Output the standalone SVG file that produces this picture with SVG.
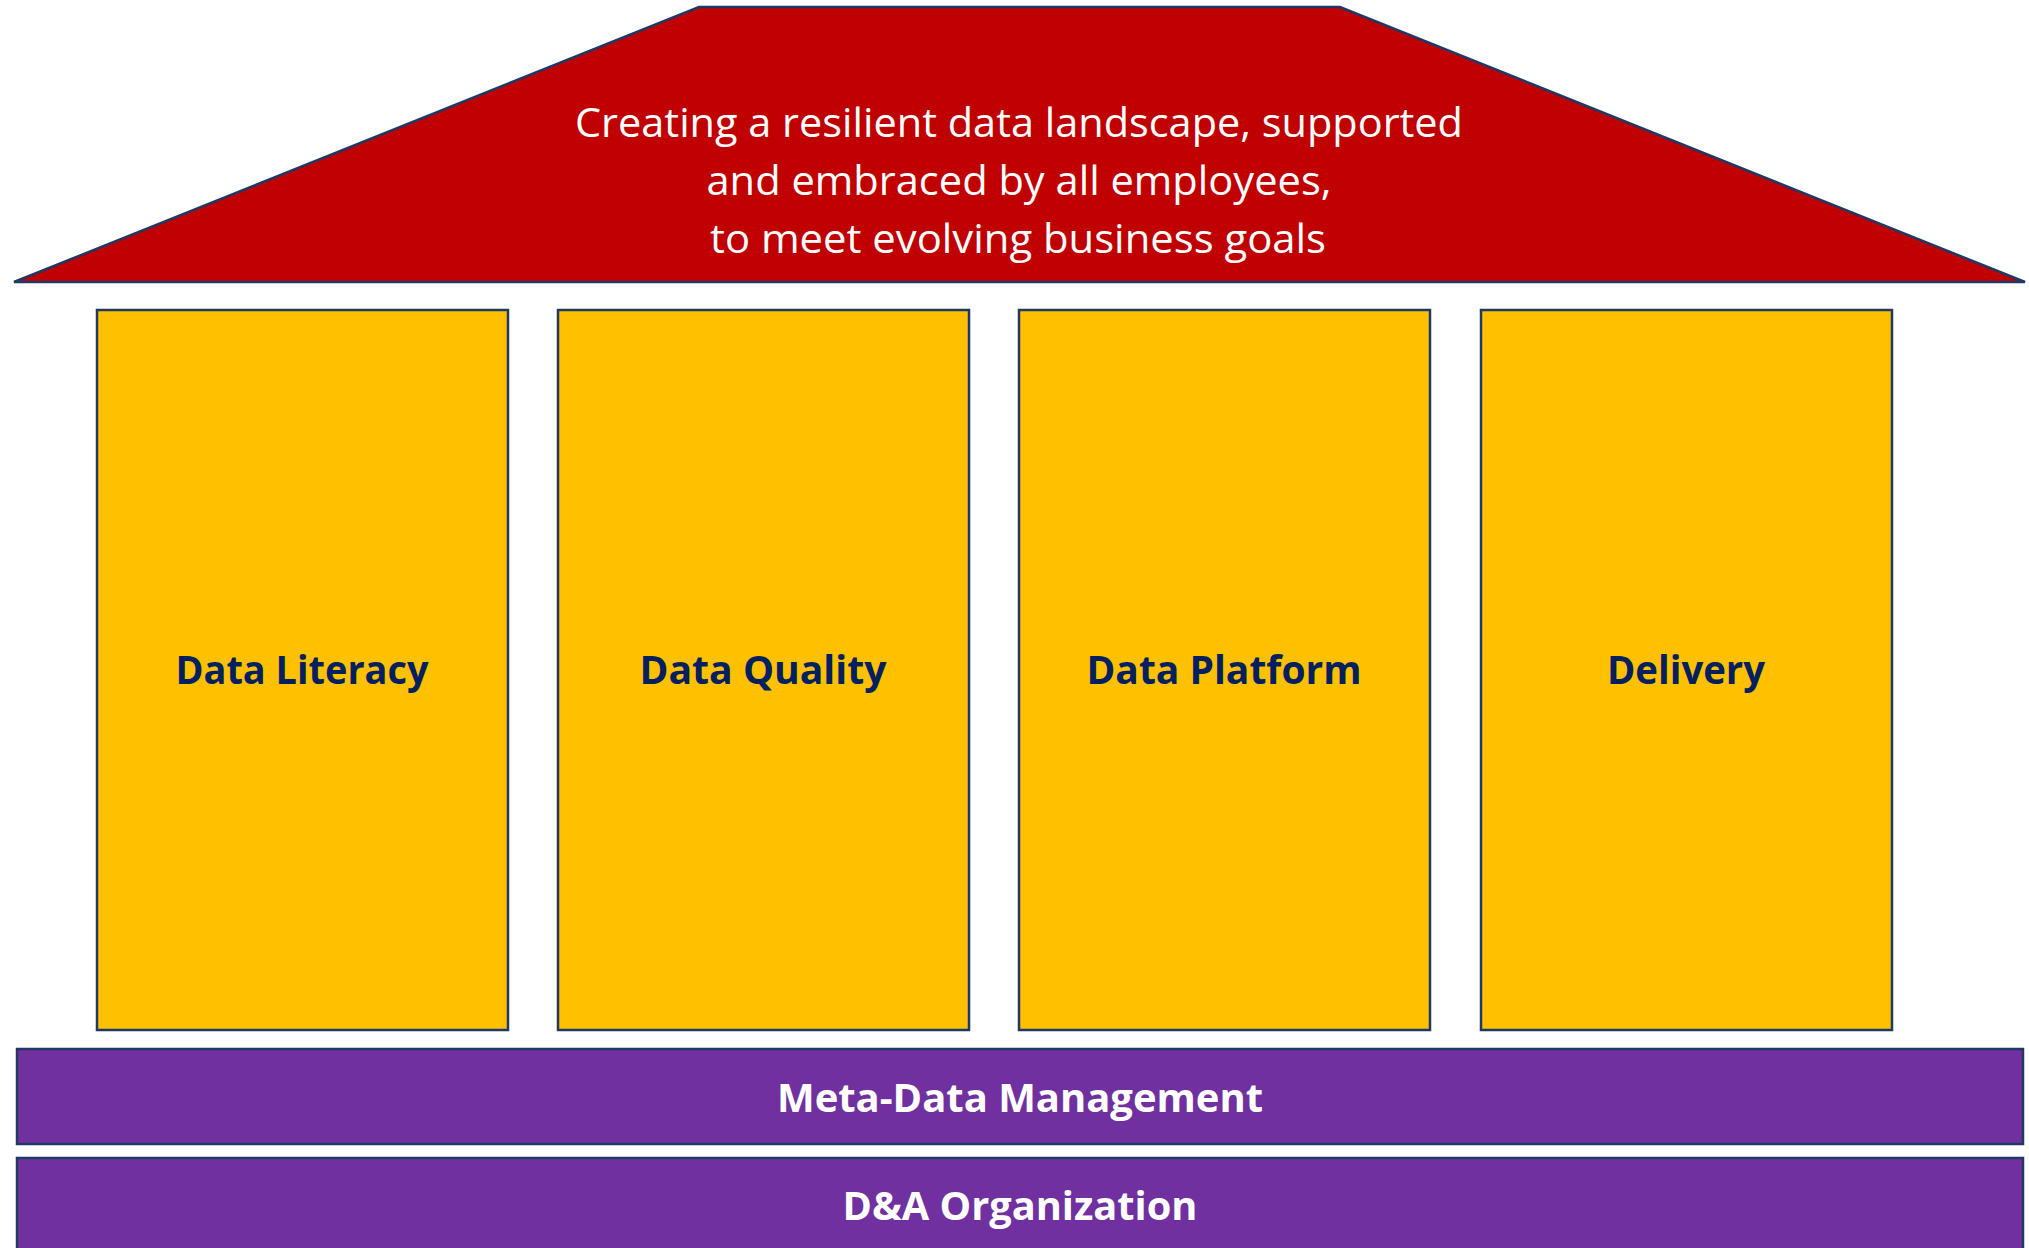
<svg xmlns="http://www.w3.org/2000/svg" width="2029" height="1248" viewBox="0 0 2029 1248">
  <style>
    .edge { stroke: #1F3864; stroke-width: 2.5; }
    .roof { fill: #C00000; }
    .pillar { fill: #FFC000; }
    .base { fill: #7030A0; }
    .roof-text { font-family: "Open Sans", "Liberation Sans", sans-serif; font-size: 41px; fill: #FFFFFF; text-anchor: middle; }
    .pillar-text { font-family: "Open Sans", "Liberation Sans", sans-serif; font-weight: bold; font-size: 40px; fill: #002060; text-anchor: middle; }
    .base-text { font-family: "Open Sans", "Liberation Sans", sans-serif; font-weight: bold; font-size: 40px; fill: #FFFFFF; text-anchor: middle; }
  </style>
  <rect x="0" y="0" width="2029" height="1248" fill="#FFFFFF"/>
  <g id="roof">
    <polygon class="roof edge" points="699,7 1340,7 2025,282 14,282"/>
    <text class="roof-text" x="1019" y="137" textLength="888" lengthAdjust="spacingAndGlyphs">Creating a resilient data landscape, supported</text>
    <text class="roof-text" x="1019" y="195" textLength="625" lengthAdjust="spacingAndGlyphs">and embraced by all employees,</text>
    <text class="roof-text" x="1018" y="253" textLength="616" lengthAdjust="spacingAndGlyphs">to meet evolving business goals</text>
  </g>
  <g id="pillar-data-literacy">
    <rect class="pillar edge" x="97" y="310" width="411" height="720"/>
    <text class="pillar-text" x="302" y="684" textLength="253" lengthAdjust="spacingAndGlyphs">Data Literacy</text>
  </g>
  <g id="pillar-data-quality">
    <rect class="pillar edge" x="558" y="310" width="411" height="720"/>
    <text class="pillar-text" x="763" y="684" textLength="247" lengthAdjust="spacingAndGlyphs">Data Quality</text>
  </g>
  <g id="pillar-data-platform">
    <rect class="pillar edge" x="1019" y="310" width="411" height="720"/>
    <text class="pillar-text" x="1224" y="684" textLength="275" lengthAdjust="spacingAndGlyphs">Data Platform</text>
  </g>
  <g id="pillar-delivery">
    <rect class="pillar edge" x="1481" y="310" width="411" height="720"/>
    <text class="pillar-text" x="1686" y="684" textLength="158" lengthAdjust="spacingAndGlyphs">Delivery</text>
  </g>
  <g id="meta-data-management">
    <rect class="base edge" x="17" y="1049" width="2006" height="95"/>
    <text class="base-text" x="1020" y="1112" textLength="486" lengthAdjust="spacingAndGlyphs">Meta-Data Management</text>
  </g>
  <g id="da-organization">
    <rect class="base edge" x="17" y="1158" width="2006" height="100"/>
    <text class="base-text" x="1020" y="1220" textLength="355" lengthAdjust="spacingAndGlyphs">D&amp;A Organization</text>
  </g>
  <g id="connectors"/>
</svg>
